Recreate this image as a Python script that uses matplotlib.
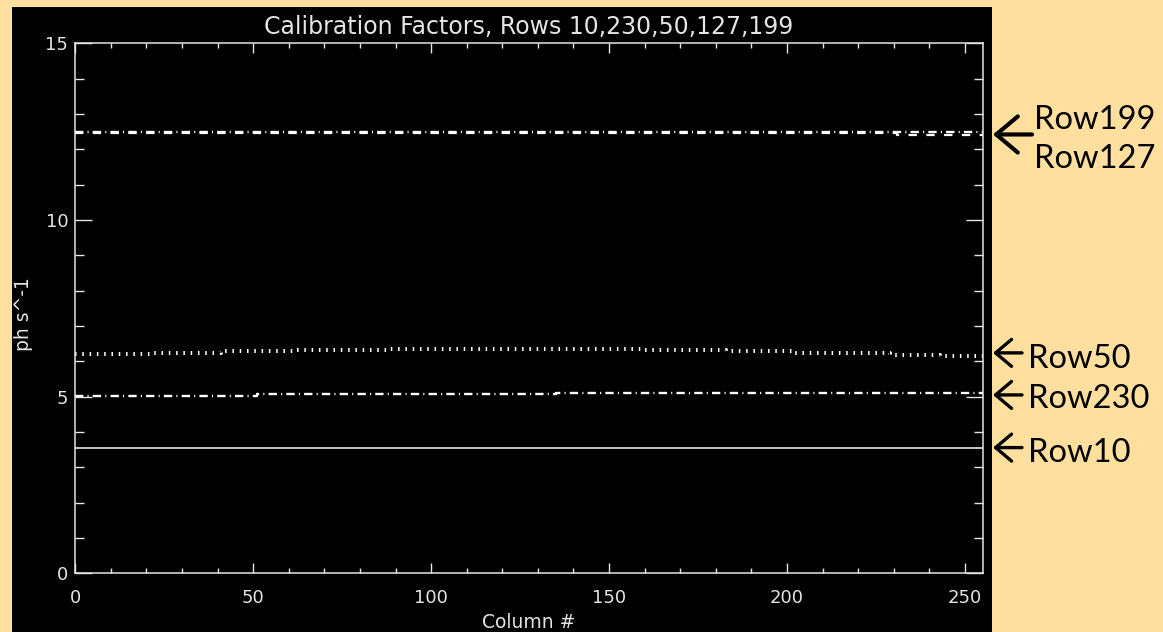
import matplotlib
matplotlib.use("Agg")
import matplotlib.pyplot as plt
from matplotlib.patches import Rectangle
from matplotlib.ticker import MultipleLocator

plt.rcParams['lines.scale_dashes'] = False

# Calibration factor profiles along the detector columns (ph s^-1)
row10_cols = [0, 255]
row10_vals = [3.56, 3.56]

row230_cols = [0, 51, 135, 255]
row230_vals = [5.03, 5.07, 5.11, 5.11]

row50_cols = [0, 22, 41, 62, 88, 159, 183, 202, 229, 243, 255]
row50_vals = [6.21, 6.25, 6.29, 6.32, 6.36, 6.32, 6.29, 6.25, 6.18, 6.15, 6.15]

row127_cols = [0, 231, 255]
row127_vals = [12.45, 12.41, 12.41]

row199_cols = [0, 255]
row199_vals = [12.50, 12.50]

title = "Calibration Factors, Rows 10,230,50,127,199"
x_label = "Column #"
y_label = "ph s^-1"

# side labels: (text, baseline pixel row from top, left pixel column)
side_labels = [("Row199", 129.3, 1034), ("Row127", 168.3, 1034),
               ("Row50", 368.3, 1028), ("Row230", 408.0, 1028),
               ("Row10", 461.7, 1028)]
# arrows: (data y, start x px, head length pt, head half-width pt, lw)
side_arrows = [(12.42, 1032, 15.5, 13.0, 3.0),
               (6.24, 1022, 11.5, 9.7, 2.4),
               (5.05, 1022, 11.5, 9.7, 2.4),
               (3.56, 1022, 11.5, 9.7, 2.4)]

W, H = 1163, 632
fig = plt.figure(figsize=(W / 100, H / 100), dpi=100, facecolor='#FFDF9E')

# black plotting panel
fig.add_artist(Rectangle((12 / W, 0), 980 / W, 625 / H, transform=fig.transFigure,
                         facecolor='black', edgecolor='none', zorder=0))

ax = fig.add_axes([75.3 / W, (H - 573.4) / H, 907.4 / W, 530.1 / H])
ax.set_facecolor('black')

fg = '#e4e4e4'
line_c = '#ffffff'

ax.plot(row10_cols, row10_vals, color='#d6d6d6', lw=1.3, solid_capstyle='butt')
ax.plot(row230_cols, row230_vals, color=line_c, lw=1.7, drawstyle='steps-post',
        linestyle=(0, (6, 3.0, 0.8, 3.0)))
ax.plot(row50_cols, row50_vals, color=line_c, lw=2.9, drawstyle='steps-post',
        linestyle=(0, (1.1, 4.15)))
ax.plot(row127_cols, row127_vals, color=line_c, lw=1.6, drawstyle='steps-post',
        linestyle=(0, (6, 6.8)))
ax.plot(row199_cols, row199_vals, color=line_c, lw=1.7,
        linestyle=(0, (6, 3.0, 0.8, 3.0)))

ax.set_xlim(0, 255)
ax.set_ylim(0, 15)
ax.xaxis.set_major_locator(MultipleLocator(50))
ax.xaxis.set_minor_locator(MultipleLocator(10))
ax.yaxis.set_major_locator(MultipleLocator(5))
ax.yaxis.set_minor_locator(MultipleLocator(1))

for s in ax.spines.values():
    s.set_color(fg)
    s.set_linewidth(1.1)

ax.tick_params(axis='both', which='both', direction='in', colors=fg,
               top=True, right=True, width=1.0, labelsize=13)
ax.tick_params(axis='x', which='major', length=7.2, pad=11)
ax.tick_params(axis='x', which='minor', length=3.6)
ax.tick_params(axis='y', which='major', length=12.2, pad=5)
ax.tick_params(axis='y', which='minor', length=6.5)

ax.set_title(title, color=fg, fontsize=17, pad=6.5)
ax.set_xlabel(x_label, color=fg, fontsize=13.5)
ax.xaxis.set_label_coords(0.5, -0.074)
ax.set_ylabel(y_label, color=fg, fontsize=13.5)
ax.yaxis.set_label_coords(-0.0466, 0.49)

for text, yb, xl in side_labels:
    fig.text(xl / W, (H - yb) / H, text, fontsize=23.5, family='Lato',
             color='black', ha='left', va='baseline')

for yv, x0, hl, hw, lw in side_arrows:
    ax.annotate('', xy=(993, yv), xycoords=('figure pixels', 'data'),
                xytext=(x0, yv), textcoords=('figure pixels', 'data'),
                annotation_clip=False,
                arrowprops=dict(arrowstyle=f'->,head_length={hl},head_width={hw}',
                                mutation_scale=1, lw=lw, color='black',
                                shrinkA=0, shrinkB=0))

fig.savefig('out.png', dpi=100, facecolor=fig.get_facecolor())
